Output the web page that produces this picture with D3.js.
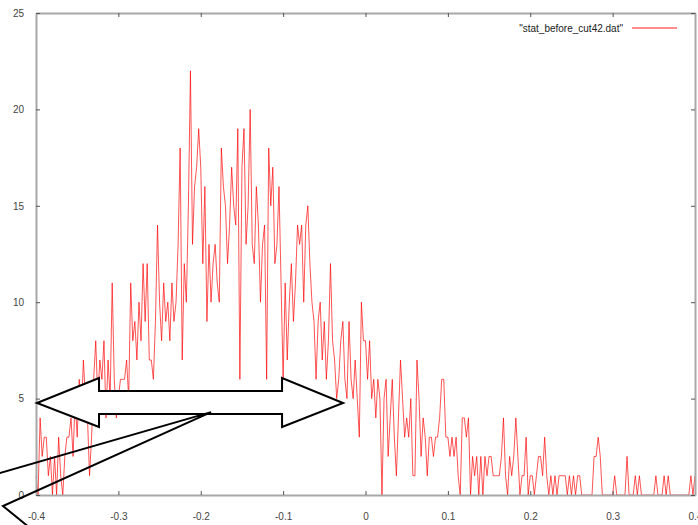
<!DOCTYPE html>
<meta charset="utf-8">
<html>
<head>
  <script src="https://d3js.org/d3.v7.min.js"></script>
  <style>
    body { margin: 0; background: #fff; }
    svg { display: block; font-family: 'Liberation Sans', Arial, sans-serif; }
    .axis text { font-size: 10px; fill: #444; }
    .axis path { stroke: #a8a8a8; stroke-width: 2; fill: none; }
    .axis line { stroke: #555; stroke-width: 1; }
    .hist { fill: none; stroke: #ff0000; stroke-width: 0.9; stroke-opacity: 0.75; }
    .shape { fill: #fff; stroke: #000; stroke-width: 2; stroke-linejoin: miter; }
    .wedge { fill: none; stroke: #000; stroke-width: 2; }
  </style>
</head>
<body>
<script>
  // histogram bins (bin width 0.0025 starting at -0.4)
  var binStart = -0.4;
  var binWidth = 0.0025;
  var counts = [
    1, 0, 4, 2, 3, 3, 1, 2,   0, 2, 0, 3, 1, 0, 2, 3,
    3, 4, 2, 5, 3, 6, 4, 7,   5, 4, 1, 3, 6, 8, 5, 7,
    6, 8, 4, 7, 5, 11, 6, 4,  5, 6, 6, 6, 7, 5, 11, 8,
    9, 7, 10, 8, 12, 9, 12, 7, 7, 6, 9, 14, 10, 8, 11, 9,
    10, 8, 11, 9, 10, 13, 18, 7, 12, 10, 15, 22, 13, 16, 17, 19,
    17, 12, 16, 9, 13, 10, 12, 13, 11, 10, 18, 16, 15, 12, 14, 17,
    15, 14, 19, 6, 17, 19, 13, 15, 20, 13, 12, 16, 14, 10, 13, 14,
    6, 18, 15, 17, 12, 13, 16, 11, 6, 11, 7, 10, 12, 9, 11, 14,
    13, 14, 10, 14, 15, 12, 10, 9, 6, 9, 10, 7, 9, 6, 8, 12,
    8, 7, 5, 6, 8, 9, 6, 5,   9, 6, 5, 7, 5, 3, 10, 8,
    8, 6, 8, 5, 6, 4, 6, 5,   0, 5, 6, 2, 4, 6, 3, 1,
    4, 7, 5, 3, 4, 3, 5, 1,   1, 7, 5, 2, 4, 3, 1, 3,
    3, 2, 3, 3, 4, 6, 6, 3,   3, 2, 3, 2, 3, 1, 0, 4,
    4, 3, 4, 0, 2, 1, 2, 0,   2, 0, 2, 1, 2, 2, 1, 1,
    1, 1, 2, 4, 1, 0, 2, 1,   2, 4, 2, 0, 1, 1, 3, 0,
    1, 1, 0, 1, 2, 2, 1, 3,   1, 0, 1, 0, 1, 0, 1, 1,
    1, 1, 0, 1, 0, 1, 0, 1,   1, 0, 0, 0, 0, 0, 0, 2,
    2, 3, 2, 0, 0, 0, 0, 0,   0, 1, 0, 0, 0, 0, 0, 2,
    0, 0, 0, 1, 0, 1, 0, 0,   0, 0, 0, 0, 0, 1, 0, 0,
    0, 1, 0, 1, 0, 0, 0, 0,   0, 0, 0, 0, 0, 0, 1, 0, 1
  ];
  var xTicks = [-0.4, -0.3, -0.2, -0.1, 0, 0.1, 0.2, 0.3, 0.4];
  var yTicks = [0, 5, 10, 15, 20, 25];
  var legendLabel = '"stat_before_cut42.dat"';

  // overlay shapes, in data units
  var arrowPts = [[-0.3988, 4.77], [-0.3235, 6.07], [-0.3235, 5.39], [-0.1013, 5.39], [-0.1013, 6.07],
                  [-0.0272, 4.77], [-0.1013, 3.53], [-0.1013, 4.20], [-0.3235, 4.20], [-0.3235, 3.53]];
  var wedgePts = [[-0.4558, 0.99], [-0.1875, 4.30], [-0.4401, -0.57], [-0.4073, -1.71]];

  var W = 698, H = 525;
  var m = { top: 13, right: 3, bottom: 30, left: 36 };

  var svg = d3.select("body").append("svg")
    .attr("width", W).attr("height", H);

  var x = d3.scaleLinear().domain([-0.4, 0.4]).range([m.left, W - m.right]);
  var y = d3.scaleLinear().domain([0, 25]).range([H - m.bottom, m.top]);

  var pts = counts.map((c, i) => [binStart + i * binWidth, c]);

  //Line
  svg.append("path")
    .attr("class", "hist")
    .attr("d", d3.line().x(d => x(d[0])).y(d => y(d[1]))(pts));

  //Axes (gnuplot style, mirrored ticks)
  svg.append("g").attr("class", "axis")
    .attr("transform", `translate(0, ${H - m.bottom})`)
    .call(d3.axisBottom(x).tickValues(xTicks).tickFormat(d => String(d))
      .tickSizeInner(-4).tickSizeOuter(0).tickPadding(18));
  svg.append("g").attr("class", "axis")
    .attr("transform", `translate(0, ${m.top})`)
    .call(d3.axisTop(x).tickValues(xTicks).tickFormat("")
      .tickSizeInner(-4).tickSizeOuter(0));
  svg.append("g").attr("class", "axis")
    .attr("transform", `translate(${m.left}, 0)`)
    .call(d3.axisLeft(y).tickValues(yTicks)
      .tickSizeInner(-4).tickSizeOuter(0).tickPadding(12));
  svg.append("g").attr("class", "axis")
    .attr("transform", `translate(${W - m.right}, 0)`)
    .call(d3.axisRight(y).tickValues(yTicks).tickFormat("")
      .tickSizeInner(-4).tickSizeOuter(0));

  //Legend
  svg.append("text")
    .attr("x", 623).attr("y", 28).attr("dy", "0.35em")
    .attr("text-anchor", "end")
    .style("font-size", "10px").style("fill", "#222")
    .text(legendLabel);
  svg.append("line")
    .attr("x1", 632).attr("x2", 677).attr("y1", 28).attr("y2", 28)
    .attr("stroke", "#ff0000").attr("stroke-width", 1.3).attr("stroke-opacity", 0.6);

  //Overlay: double arrow + callout pointer
  var poly = d3.line().x(d => x(d[0])).y(d => y(d[1]));
  svg.append("path").attr("class", "shape").attr("d", poly(arrowPts) + "Z");
  svg.append("path").attr("class", "wedge").attr("d", poly(wedgePts));
</script>
</body>
</html>
